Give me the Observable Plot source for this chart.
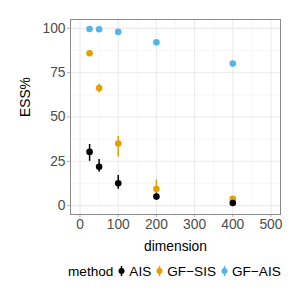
<!DOCTYPE html>
<html><head><meta charset="utf-8">
<script src="https://cdn.jsdelivr.net/npm/d3@7"></script>
<script src="https://cdn.jsdelivr.net/npm/@observablehq/plot@0.6"></script>
<style>
body{margin:0;background:#fff;font-family:"Liberation Sans",Arial,sans-serif;}
#legend{display:flex;align-items:center;font-size:13.6px;color:#000;height:24px;padding-left:68px;margin-top:1px;white-space:nowrap;}
#legend .k{display:flex;align-items:center;margin-left:3px;}
#legend svg{margin-right:2px;}
</style></head><body>
<div id="chart"></div>
<script>
const dims = [25, 50, 100, 200, 400];
const methods = ["AIS", "GF\u2212SIS", "GF\u2212AIS"];
const colors = ["#000000", "#E69F00", "#56B4E9"];
const aisMean = [30.3, 21.9, 12.6, 5.1, 1.5];
const aisLo   = [25.0, 18.8, 9.2, 3.5, 0.8];
const aisHi   = [34.5, 26.0, 17.0, 7.0, 2.5];
const sisMean = [86.0, 66.3, 35.0, 9.4, 3.8];
const sisLo   = [85.0, 63.5, 27.5, 6.5, 2.5];
const sisHi   = [87.0, 68.5, 39.0, 14.5, 5.0];
const gaisMean = [99.6, 99.5, 98.0, 92.1, 80.2];
const gaisLo   = [99.2, 99.1, 97.5, 91.5, 78.0];
const gaisHi   = [100.0, 99.9, 98.5, 92.7, 81.5];
const xTicks = [0, 100, 200, 300, 400, 500];
const xMinor = [50, 150, 250, 350, 450];
const yTicks = [0, 25, 50, 75, 100];
const yMinor = [12.5, 37.5, 62.5, 87.5];

const series = [[gaisMean, gaisLo, gaisHi, 2], [sisMean, sisLo, sisHi, 1], [aisMean, aisLo, aisHi, 0]];
const data = [];
for (const [m, lo, hi, k] of series) {
  dims.forEach((d, i) => data.push({dim: d, mean: m[i], lo: lo[i], hi: hi[i], method: methods[k]}));
}

const plot = Plot.plot({
  width: 300, height: 258,
  marginLeft: 70, marginRight: 20, marginTop: 19, marginBottom: 44,
  style: {fontFamily: "Liberation Sans, Arial, sans-serif", fontSize: "13.8px", background: "#fff"},
  x: {domain: [-25, 525]},
  y: {domain: [-5, 105]},
  color: {domain: methods, range: colors},
  marks: [
    Plot.ruleX(xMinor, {stroke: "#f2f2f2", strokeWidth: 0.6}),
    Plot.ruleY(yMinor, {stroke: "#f2f2f2", strokeWidth: 0.6}),
    Plot.ruleX(xTicks, {stroke: "#ebebeb", strokeWidth: 1.1}),
    Plot.ruleY(yTicks, {stroke: "#ebebeb", strokeWidth: 1.1}),
    Plot.axisX({ticks: xTicks, tickSize: 3, tickPadding: 2, stroke: "#b3b3b3", fill: "#4d4d4d", label: null, fontSize: 13.8}),
    Plot.axisY({ticks: yTicks, tickSize: 3, tickPadding: 2, stroke: "#b3b3b3", fill: "#4d4d4d", label: null, fontSize: 13.8}),
    Plot.ruleX(data, {x: "dim", y1: "lo", y2: "hi", stroke: "method", strokeWidth: 1.5}),
    Plot.dot(data, {x: "dim", y: "mean", fill: "method", r: 3.3}),
    Plot.frame({stroke: "#8a8a8a", strokeWidth: 1}),
    Plot.text(["dimension"], {frameAnchor: "bottom", dy: 36, fill: "#000", fontSize: 13.8}),
    Plot.text(["ESS%"], {frameAnchor: "left", dx: -45, rotate: -90, fill: "#000", fontSize: 13.8})
  ]
});
document.getElementById("chart").appendChild(plot);

const leg = document.createElement("div");
leg.id = "legend";
let html = '<span>method</span>';
methods.forEach((m, i) => {
  html += `<span class="k"><svg width="11" height="14"><line x1="5.5" x2="5.5" y1="2" y2="12" stroke="${colors[i]}" stroke-width="1.5"/><circle cx="5.5" cy="7" r="3" fill="${colors[i]}"/></svg>${m}</span>`;
});
leg.innerHTML = html;
document.body.appendChild(leg);
</script>
</body></html>
